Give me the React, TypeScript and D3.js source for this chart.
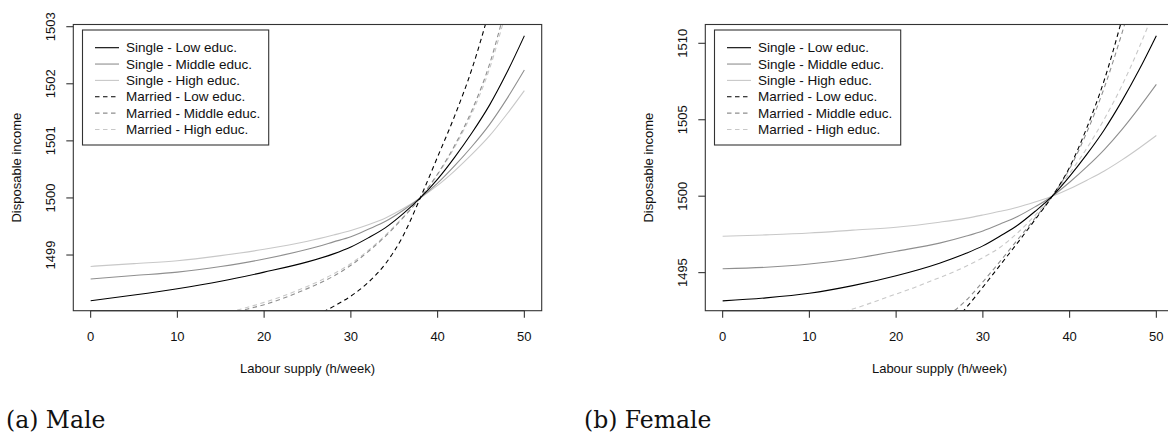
import React from "react";
import * as d3 from "d3";

// ---------- data ----------
const xTicks = [0, 10, 20, 30, 40, 50];
const maleYTicks = [1499, 1500, 1501, 1502, 1503];
const femaleYTicks = [1495, 1500, 1505, 1510];

const seriesLabels = [
  "Single - Low educ.",
  "Single - Middle educ.",
  "Single - High educ.",
  "Married - Low educ.",
  "Married - Middle educ.",
  "Married - High educ.",
];

const hoursSingle = [0, 5, 10, 15, 20, 25, 28, 30, 32, 34, 36, 38, 40, 42, 44, 46, 48, 50];

const maleSingleLow = [1498.20, 1498.30, 1498.41, 1498.54, 1498.70, 1498.88, 1499.02, 1499.14, 1499.30, 1499.48, 1499.72, 1500.00, 1500.33, 1500.72, 1501.15, 1501.63, 1502.20, 1502.84];
const maleSingleMiddle = [1498.58, 1498.64, 1498.70, 1498.80, 1498.93, 1499.10, 1499.23, 1499.32, 1499.45, 1499.59, 1499.78, 1500.00, 1500.26, 1500.57, 1500.91, 1501.29, 1501.74, 1502.24];
const maleSingleHigh = [1498.80, 1498.85, 1498.90, 1498.99, 1499.10, 1499.24, 1499.35, 1499.43, 1499.53, 1499.65, 1499.81, 1500.00, 1500.22, 1500.48, 1500.77, 1501.09, 1501.47, 1501.88];

const maleMarriedLowHours = [26, 28, 30, 32, 34, 36, 38, 40, 42, 44, 46];
const maleMarriedLow = [1497.94, 1498.10, 1498.28, 1498.52, 1498.85, 1499.33, 1500.00, 1500.72, 1501.45, 1502.28, 1503.30];
const maleMarriedOtherHours = [16, 18, 20, 22, 24, 26, 28, 30, 32, 34, 36, 38, 40, 42, 44, 46, 48];
const maleMarriedMiddle = [1497.97, 1498.05, 1498.13, 1498.23, 1498.35, 1498.48, 1498.63, 1498.82, 1499.06, 1499.33, 1499.65, 1500.00, 1500.42, 1500.93, 1501.55, 1502.35, 1503.45];
const maleMarriedHigh = [1498.00, 1498.08, 1498.17, 1498.27, 1498.39, 1498.52, 1498.67, 1498.85, 1499.08, 1499.35, 1499.66, 1500.00, 1500.41, 1500.90, 1501.50, 1502.27, 1503.32];

const femaleSingleLow = [1493.15, 1493.35, 1493.65, 1494.15, 1494.80, 1495.62, 1496.25, 1496.75, 1497.40, 1498.10, 1499.00, 1500.00, 1501.30, 1502.75, 1504.35, 1506.20, 1508.25, 1510.50];
const femaleSingleMiddle = [1495.25, 1495.35, 1495.56, 1495.91, 1496.40, 1496.93, 1497.38, 1497.73, 1498.18, 1498.67, 1499.30, 1500.00, 1500.91, 1501.93, 1503.05, 1504.34, 1505.78, 1507.31];
const femaleSingleHigh = [1497.38, 1497.47, 1497.59, 1497.78, 1497.97, 1498.30, 1498.55, 1498.77, 1499.01, 1499.28, 1499.62, 1500.00, 1500.49, 1501.05, 1501.65, 1502.36, 1503.14, 1503.97];

const femaleMarriedLowHours = [27, 28, 30, 32, 34, 36, 38, 40, 42, 44, 46];
const femaleMarriedLow = [1492.00, 1492.65, 1494.05, 1495.50, 1496.95, 1498.45, 1500.00, 1501.90, 1504.50, 1507.60, 1511.50];
const femaleMarriedMiddleHours = [26, 28, 30, 32, 34, 36, 38, 40, 42, 44, 46, 48];
const femaleMarriedMiddle = [1492.20, 1493.15, 1494.40, 1495.75, 1497.15, 1498.55, 1500.00, 1501.80, 1504.20, 1507.10, 1510.60, 1514.50];
const femaleMarriedHighHours = [14, 16, 18, 20, 22, 24, 26, 28, 30, 32, 34, 36, 38, 40, 42, 44, 46, 48, 50];
const femaleMarriedHigh = [1492.45, 1492.80, 1493.20, 1493.60, 1494.00, 1494.45, 1494.90, 1495.40, 1495.98, 1496.66, 1497.60, 1498.75, 1500.00, 1501.50, 1503.15, 1505.05, 1507.20, 1509.70, 1512.50];

// ---------- styles ----------
const seriesColors = ["#000000", "#8f8f8f", "#c8c8c8", "#000000", "#8f8f8f", "#c8c8c8"];
const seriesDash = [null, null, null, "4.5,3.5", "4.5,3.5", "4.5,3.5"];
const FONT = "'Liberation Sans', Arial, Helvetica, sans-serif";

type Panel = {
  id: string;
  left: number;
  yDomain: [number, number];
  yTicks: number[];
  series: { hours: number[]; values: number[] }[];
  caption: string;
  captionX: number;
};

const panels: Panel[] = [
  {
    id: "male",
    left: 73.3,
    yDomain: [1498.0245, 1503.0385],
    yTicks: maleYTicks,
    series: [
      { hours: hoursSingle, values: maleSingleLow },
      { hours: hoursSingle, values: maleSingleMiddle },
      { hours: hoursSingle, values: maleSingleHigh },
      { hours: maleMarriedLowHours, values: maleMarriedLow },
      { hours: maleMarriedOtherHours, values: maleMarriedMiddle },
      { hours: maleMarriedOtherHours, values: maleMarriedHigh },
    ],
    caption: "(a) Male",
    captionX: 6,
  },
  {
    id: "female",
    left: 705.3,
    yDomain: [1492.51, 1511.23],
    yTicks: femaleYTicks,
    series: [
      { hours: hoursSingle, values: femaleSingleLow },
      { hours: hoursSingle, values: femaleSingleMiddle },
      { hours: hoursSingle, values: femaleSingleHigh },
      { hours: femaleMarriedLowHours, values: femaleMarriedLow },
      { hours: femaleMarriedMiddleHours, values: femaleMarriedMiddle },
      { hours: femaleMarriedHighHours, values: femaleMarriedHigh },
    ],
    caption: "(b) Female",
    captionX: 584,
  },
];

const PW = 468.4;
const TOP = 24.5;
const BOTTOM = 310.7;

function PanelView({ p }: { p: Panel }) {
  const x = d3.scaleLinear().domain([-2, 52]).range([p.left, p.left + PW]);
  const y = d3.scaleLinear().domain(p.yDomain).range([BOTTOM, TOP]);
  const line = d3
    .line<[number, number]>()
    .x((d) => x(d[0]))
    .y((d) => y(d[1]))
    .curve(d3.curveMonotoneX);
  const clipId = `clip-${p.id}`;
  const order = [5, 4, 2, 1, 3, 0];
  const lgLeft = p.left + 9.2;
  const lgTop = 30;
  return (
    <g>
      <defs>
        <clipPath id={clipId}>
          <rect x={p.left} y={TOP} width={PW} height={BOTTOM - TOP} />
        </clipPath>
      </defs>
      <g clipPath={`url(#${clipId})`}>
        {order.map((i) => {
          const s = p.series[i];
          const pts = s.hours.map((h, k) => [h, s.values[k]] as [number, number]);
          return (
            <path
              key={i}
              d={line(pts) || ""}
              fill="none"
              stroke={seriesColors[i]}
              strokeWidth={1.1}
              strokeDasharray={seriesDash[i] || undefined}
            />
          );
        })}
      </g>
      <rect x={p.left} y={TOP} width={PW} height={BOTTOM - TOP} fill="none" stroke="#333" strokeWidth={1.1} />
      {/* x axis */}
      <line x1={x(xTicks[0])} x2={x(xTicks[xTicks.length - 1])} y1={BOTTOM} y2={BOTTOM} stroke="#333" strokeWidth={1.1} />
      {xTicks.map((t) => (
        <g key={t}>
          <line x1={x(t)} x2={x(t)} y1={BOTTOM} y2={BOTTOM + 7} stroke="#333" strokeWidth={1.1} />
          <text x={x(t)} y={341.4} textAnchor="middle" fontFamily={FONT} fontSize={13} fill="#111">
            {t}
          </text>
        </g>
      ))}
      <text x={p.left + PW / 2} y={373} textAnchor="middle" fontFamily={FONT} fontSize={13} fill="#111">
        Labour supply (h/week)
      </text>
      {/* y axis */}
      {p.yTicks.map((t) => (
        <g key={t}>
          <line x1={p.left - 7} x2={p.left} y1={y(t)} y2={y(t)} stroke="#333" strokeWidth={1.1} />
          <text
            transform={`translate(${p.left - 18.5},${y(t)}) rotate(-90)`}
            textAnchor="middle"
            fontFamily={FONT}
            fontSize={13}
            fill="#111"
          >
            {t}
          </text>
        </g>
      ))}
      <text
        transform={`translate(${p.left - 52},${(TOP + BOTTOM) / 2}) rotate(-90)`}
        textAnchor="middle"
        fontFamily={FONT}
        fontSize={13}
        fill="#111"
      >
        Disposable income
      </text>
      {/* legend */}
      <rect x={lgLeft} y={lgTop} width={186.2} height={115} fill="#fff" stroke="#333" strokeWidth={1.1} />
      {seriesLabels.map((lab, i) => {
        const cy = 47.7 + i * 16.35;
        return (
          <g key={lab}>
            <line
              x1={lgLeft + 12.5}
              x2={lgLeft + 36.5}
              y1={cy}
              y2={cy}
              stroke={seriesColors[i]}
              strokeWidth={1.1}
              strokeDasharray={seriesDash[i] || undefined}
            />
            <text x={lgLeft + 43.5} y={cy + 4.7} fontFamily={FONT} fontSize={13.5} fill="#111">
              {lab}
            </text>
          </g>
        );
      })}
      <text x={p.captionX} y={428} fontFamily="'DejaVu Serif', serif" fontSize={23.5} fill="#111">
        {p.caption}
      </text>
    </g>
  );
}

export default function App() {
  return (
    <svg
      width={1168}
      height={433}
      viewBox="0 0 1168 433"
      style={{ position: "absolute", left: 0, top: 0, background: "#fff" }}
    >
      <rect x={0} y={0} width={1168} height={433} fill="#fff" />
      {panels.map((p) => (
        <PanelView key={p.id} p={p} />
      ))}
    </svg>
  );
}
